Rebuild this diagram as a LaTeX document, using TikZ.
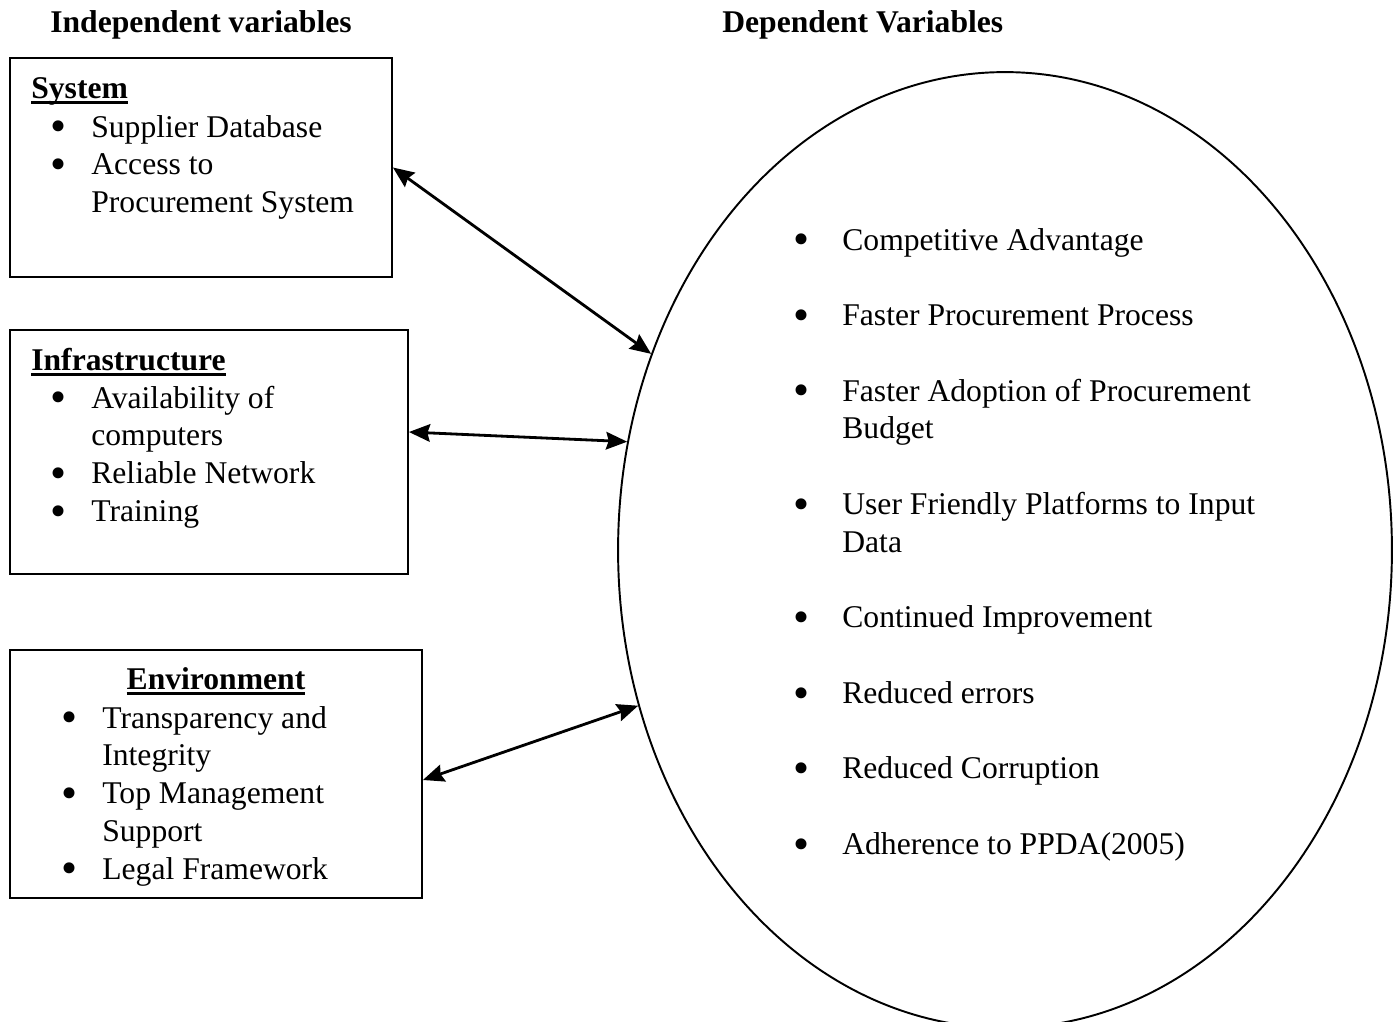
\documentclass[tikz,border=0pt]{standalone}
\usepackage{fontspec}
\setmainfont{Liberation Serif}
\usepackage{tikz}
\usetikzlibrary{shapes.geometric, arrows.meta, positioning}
\newcommand{\bul}{\smash{\raisebox{-2.7pt}{\scalebox{1.45}{\textbullet}}}}
\newcommand{\hdul}[1]{\setbox0\hbox{#1}\rlap{\rule[-3.2pt]{\wd0}{1.7pt}}\box0}

\begin{document}
\begin{tikzpicture}[
    x=0.02cm, y=-0.02cm,
    font=\fontsize{18}{21.5}\selectfont,
    >={Stealth[length=12pt, width=10pt, inset=1.5pt]},
    varbox/.style={rectangle, draw, line width=1.1pt, inner sep=0pt},
    outcome/.style={ellipse, draw, line width=1.1pt, inner sep=0pt},
    txt/.style={inner sep=0pt, anchor=base west},
    heading/.style={inner sep=0pt, font=\fontsize{18}{21.5}\selectfont\bfseries},
    biarrow/.style={<->, line width=1.6pt}
]
\useasboundingbox (0,0) rectangle (1399,1021);

% Titles
\node[heading, anchor=base west] (indep) at (50,32) {Independent variables};
\node[heading, anchor=base west] (depend) at (722,32) {Dependent Variables};

% Independent variable boxes
\node[varbox, minimum width=7.64cm, minimum height=4.38cm] (sys) at (201,167.5) {};
\node[heading, anchor=base west] (sysh) at (31,98) {\hdul{System}};
\node[txt] (syslist) at (50,137) {\begin{tabular}[t]{@{}p{0.82cm}@{}l@{}}
\bul & Supplier Database\\
\bul & Access to\\
 & Procurement System
\end{tabular}};

\node[varbox, minimum width=7.96cm, minimum height=4.88cm] (infra) at (209,452) {};
\node[heading, anchor=base west] (infrah) at (31,370) {\hdul{Infrastructure}};
\node[txt] (infralist) at (50,408) {\begin{tabular}[t]{@{}p{0.82cm}@{}l@{}}
\bul & Availability of\\
 & computers\\
\bul & Reliable Network\\
\bul & Training
\end{tabular}};

\node[varbox, minimum width=8.24cm, minimum height=4.96cm] (env) at (216,774) {};
\node[heading, anchor=base] (envh) at (216,689) {\hdul{Environment}};
\node[txt] (envlist) at (61,728) {\begin{tabular}[t]{@{}p{0.82cm}@{}l@{}}
\bul & Transparency and\\
 & Integrity\\
\bul & Top Management\\
 & Support\\
\bul & Legal Framework
\end{tabular}};

% Dependent variables
\node[outcome, minimum width=15.48cm, minimum height=19.12cm] (dep) at (1005,550) {};
\node[txt] (deplist) at (793,250) {\begin{tabular}[t]{@{}p{0.98cm}@{}l@{}}
\bul & Competitive Advantage\\
 & \\
\bul & Faster Procurement Process\\
 & \\
\bul & Faster Adoption of Procurement\\
 & Budget\\
 & \\
\bul & User Friendly Platforms to Input\\
 & Data\\
 & \\
\bul & Continued Improvement\\
 & \\
\bul & Reduced errors\\
 & \\
\bul & Reduced Corruption\\
 & \\
\bul & Adherence to PPDA(2005)
\end{tabular}};

% Links
\draw[biarrow] (sys.east) -- (dep.151);
\draw[biarrow] ([yshift=0.4cm]infra.east) -- (dep.164);
\draw[biarrow] ([yshift=-0.12cm]env.east) -- (dep.203);

\end{tikzpicture}
\end{document}
